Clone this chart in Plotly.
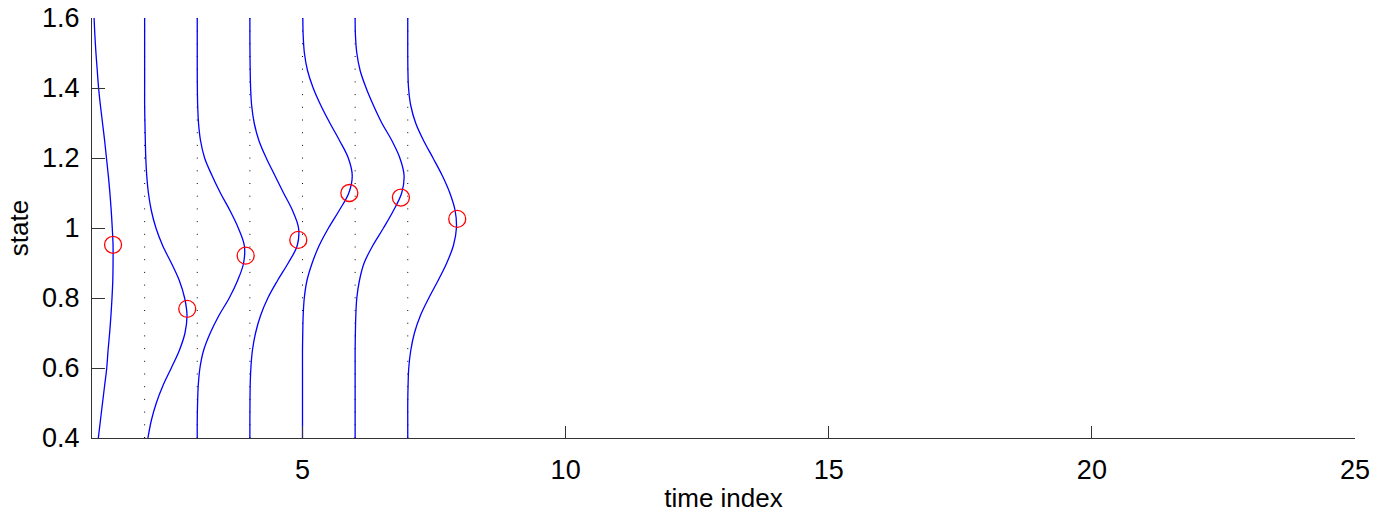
import plotly.graph_objects as go

# time steps (baseline x of each density)
time_steps = [1, 2, 3, 4, 5, 6, 7]

# state grid on which the densities were read (top to bottom)
state_grid = [1.60, 1.55, 1.50, 1.45, 1.40, 1.35, 1.30, 1.25, 1.20, 1.15, 1.10, 1.05, 1.00,
              0.95, 0.90, 0.85, 0.80, 0.75, 0.70, 0.65, 0.60, 0.55, 0.50, 0.45, 0.40]

# scaled density (horizontal offset from the baseline)
density_t1 = [0.04, 0.055, 0.075, 0.10, 0.125, 0.16, 0.20, 0.24, 0.275, 0.31, 0.34, 0.365, 0.385,
              0.40, 0.40, 0.395, 0.38, 0.36, 0.335, 0.305, 0.28, 0.24, 0.20, 0.16, 0.12]
density_t2 = [0.0, 0.0, 0.0, 0.0, 0.0, 0.0, 0.006, 0.013, 0.022, 0.040, 0.072, 0.127, 0.215,
              0.342, 0.507, 0.659, 0.760, 0.805, 0.767, 0.659, 0.507, 0.349, 0.222, 0.127, 0.063]
density_t3 = [0.0, 0.0, 0.0, 0.0, 0.002, 0.008, 0.024, 0.062, 0.140, 0.280, 0.440, 0.621, 0.780,
              0.894, 0.881, 0.767, 0.608, 0.412, 0.247, 0.120, 0.051, 0.019, 0.006, 0.0, 0.0]
density_t4 = [0.0, 0.0, 0.002, 0.006, 0.014, 0.034, 0.082, 0.171, 0.311, 0.475, 0.640, 0.810, 0.925,
              0.900, 0.729, 0.526, 0.342, 0.203, 0.108, 0.048, 0.019, 0.006, 0.002, 0.0, 0.0]
density_t5 = [0.006, 0.013, 0.036, 0.095, 0.203, 0.349, 0.520, 0.703, 0.870, 0.945, 0.880, 0.697, 0.494,
              0.317, 0.184, 0.085, 0.034, 0.013, 0.005, 0.0, 0.0, 0.0, 0.0, 0.0, 0.0]
density_t6 = [0.0, 0.006, 0.032, 0.095, 0.209, 0.349, 0.507, 0.697, 0.850, 0.930, 0.885, 0.729, 0.539,
              0.336, 0.171, 0.082, 0.032, 0.013, 0.005, 0.0, 0.0, 0.0, 0.0, 0.0, 0.0]
density_t7 = [0.0, 0.0, 0.0, 0.003, 0.015, 0.057, 0.150, 0.300, 0.480, 0.655, 0.800, 0.900, 0.925,
              0.868, 0.741, 0.577, 0.400, 0.241, 0.127, 0.057, 0.019, 0.006, 0.0, 0.0, 0.0]
densities = [density_t1, density_t2, density_t3, density_t4, density_t5, density_t6, density_t7]

# red circles (observed states)
circle_x = [1.40, 2.81, 3.92, 4.92, 5.89, 6.87, 7.94]
circle_y = [0.952, 0.769, 0.921, 0.966, 1.100, 1.087, 1.026]

x_ticks = [5, 10, 15, 20, 25]
y_ticks = [0.4, 0.6, 0.8, 1.0, 1.2, 1.4, 1.6]
y_tick_text = ["0.4", "0.6", "0.8", "1", "1.2", "1.4", "1.6"]

FONT = "Liberation Sans, Arial, Helvetica, sans-serif"

fig = go.Figure()

# dotted baselines
for k in time_steps[1:]:
    fig.add_trace(go.Scatter(x=[k, k], y=[0.4, 1.6], mode="lines",
                             line=dict(color="black", width=1, dash="1px,11.7px"),
                             hoverinfo="skip", showlegend=False))

# density curves
for k, dens in zip(time_steps, densities):
    fig.add_trace(go.Scatter(x=[k + d for d in dens], y=state_grid, mode="lines",
                             line=dict(color="#0000ff", width=1.3, shape="spline", smoothing=1.0),
                             showlegend=False))

# circles
fig.add_trace(go.Scatter(x=circle_x, y=circle_y, mode="markers",
                         marker=dict(symbol="circle-open", size=17, color="#ff0000",
                                     line=dict(width=1.3, color="#ff0000")),
                         showlegend=False))

axis_common = dict(showline=True, linecolor="#333333", linewidth=1, ticks="inside",
                   tickcolor="#333333", showgrid=False, zeroline=False, mirror=False,
                   automargin=False,
                   tickfont=dict(family=FONT, size=27, color="black"))

fig.update_layout(
    width=1376, height=517,
    margin=dict(l=92, r=21, t=18, b=79),
    paper_bgcolor="white", plot_bgcolor="white",
    font=dict(family=FONT, size=26, color="black"),
    xaxis=dict(range=[1, 25], tickvals=x_ticks, ticklen=12, ticklabelstandoff=8,
               title=dict(text="time index", standoff=4, font=dict(family=FONT, size=26)),
               **axis_common),
    yaxis=dict(range=[0.4, 1.6], tickvals=y_ticks, ticktext=y_tick_text, ticklen=13,
               ticklabelstandoff=6,
               title=dict(text="state", standoff=5, font=dict(family=FONT, size=26)),
               **axis_common),
)

fig.write_html("out.html")
